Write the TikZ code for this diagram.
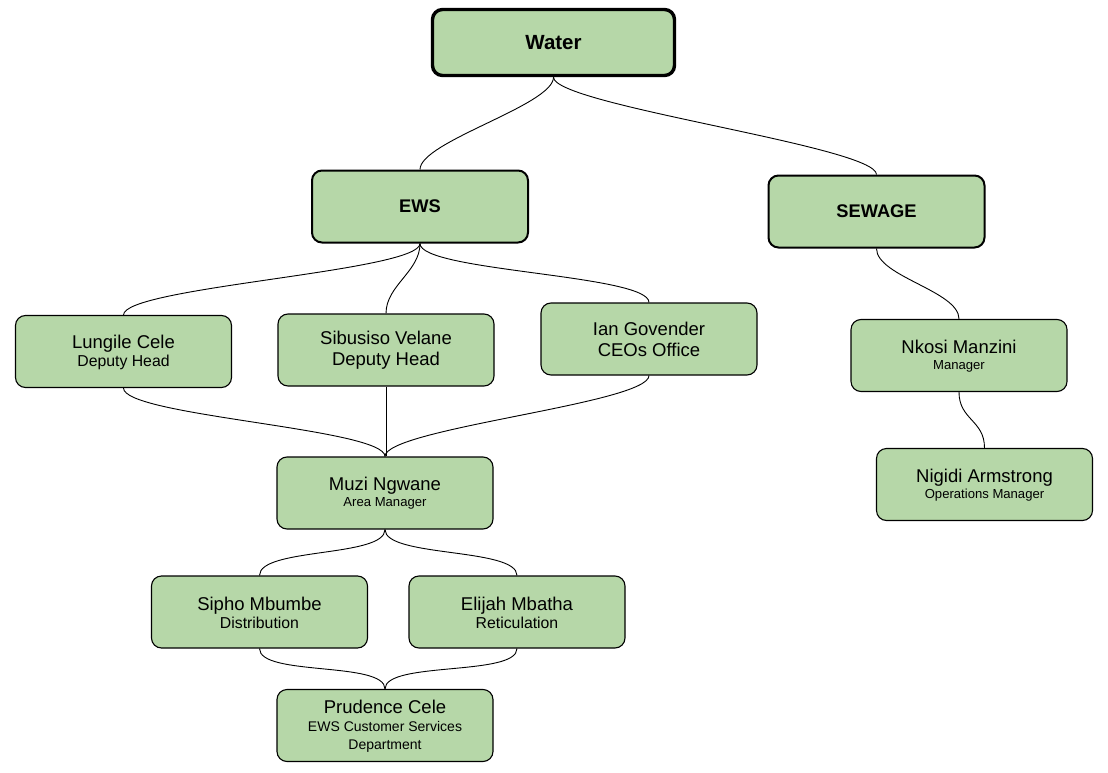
\documentclass[tikz,border=0pt]{standalone}
\usepackage{fontspec}
\setmainfont{Liberation Sans}
\definecolor{boxgreen}{HTML}{B6D7A8}
\newcommand\sline[2]{{\fontsize{#1}{#1}\selectfont #2}}
\begin{document}
\begin{tikzpicture}[x=1pt,y=1pt,
  box/.style={draw=black,fill=boxgreen,rounded corners=10pt,line width=1.1pt,
    minimum width=216pt,minimum height=72pt,inner sep=0pt,align=center,
    font=\fontsize{18.5}{21}\selectfont},
  headbox/.style={box,line width=2pt,font=\fontsize{18.3}{21}\selectfont\bfseries},
  topbox/.style={box,line width=3.4pt,minimum width=242pt,minimum height=66pt,
    font=\fontsize{20.5}{24}\selectfont\bfseries},
  conn/.style={draw=black,line width=0.9pt},
  curvy/.style={out=-90,in=90,out distance=28pt,in distance=28pt}]
\useasboundingbox (0,0) rectangle (1108,-773);
% nodes
\node[topbox] (water) at (553.5,-42.5) {Water};
\node[headbox] (ews) at (420,-206.5) {EWS};
\node[headbox] (sewage) at (876.5,-211.5) {SEWAGE};
\node[box] (lungile) at (123.5,-351.5) {\strut Lungile Cele\\[-3pt]\sline{15.8}{Deputy Head}};
\node[box] (sibusiso) at (386,-350) {\strut Sibusiso Velane\\[0pt]Deputy Head};
\node[box] (ian) at (649,-339) {\strut Ian Govender\\[0pt]CEOs Office};
\node[box] (muzi) at (385,-493) {\strut Muzi Ngwane\\[-5pt]\sline{13.1}{Area Manager}};
\node[box] (sipho) at (259.5,-612) {\strut Sipho Mbumbe\\[-3pt]\sline{15.8}{Distribution}};
\node[box] (elijah) at (517,-612) {\strut Elijah Mbatha\\[-3pt]\sline{15.8}{Reticulation}};
\node[box] (prudence) at (385,-725.5) {\strut Prudence Cele\\[-3pt]\sline{14}{EWS Customer Services}\\[-3pt]\sline{14}{Department}};
\node[box] (nkosi) at (959,-355.5) {\strut Nkosi Manzini\\[-5pt]\sline{13.1}{Manager}};
\node[box] (nigidi) at (984.5,-484.5) {\strut Nigidi Armstrong\\[-5pt]\sline{13.1}{Operations Manager}};
% connectors
\draw[conn] (water.south) to[curvy] (ews.north);
\draw[conn] (water.south) to[curvy] (sewage.north);
\draw[conn] (ews.south) to[curvy] (lungile.north);
\draw[conn] (ews.south) to[curvy] (sibusiso.north);
\draw[conn] (ews.south) to[curvy] (ian.north);
\draw[conn] (lungile.south) to[curvy] (muzi.north);
\draw[conn] (sibusiso.south) -- (sibusiso.south |- muzi.north);
\draw[conn] (ian.south) to[curvy] (muzi.north);
\draw[conn] (muzi.south) to[curvy] (sipho.north);
\draw[conn] (muzi.south) to[curvy] (elijah.north);
\draw[conn] (sipho.south) to[curvy] (prudence.north);
\draw[conn] (elijah.south) to[curvy] (prudence.north);
\draw[conn] (sewage.south) to[curvy] (nkosi.north);
\draw[conn] (nkosi.south) to[curvy] (nigidi.north);
\end{tikzpicture}
\end{document}
